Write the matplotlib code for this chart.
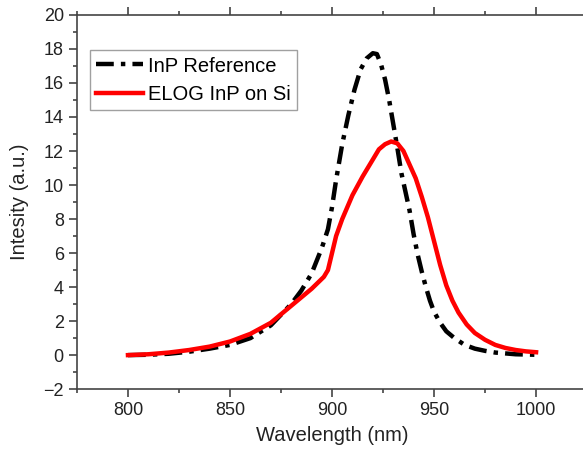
import matplotlib
matplotlib.use("Agg")
import matplotlib.pyplot as plt
from matplotlib.ticker import MultipleLocator

plt.rcParams["font.family"] = ["Liberation Sans", "DejaVu Sans"]

# InP reference (black dash-dot)
ref_wl = [800, 810, 820, 830, 840, 850, 860, 870, 880, 885, 890, 895, 898, 900, 902, 905,
          908, 911, 914, 917, 920, 922, 924, 926, 928, 930, 932, 934, 936, 938, 940, 942,
          944, 946, 948, 950, 953, 956, 960, 965, 970, 975, 980, 990, 1000]
ref_i = [0, 0.02, 0.08, 0.2, 0.38, 0.6, 1.0, 1.75, 3.0, 3.8, 4.8, 6.3, 7.4, 8.7, 10.3, 12.4,
         14.1, 15.6, 16.8, 17.45, 17.75, 17.7, 17.1, 16.2, 15.0, 13.6, 12.2, 10.7, 9.6, 8.5, 7.1, 5.9,
         4.9, 4.0, 3.2, 2.55, 1.9, 1.4, 1.0, 0.6, 0.38, 0.25, 0.15, 0.05, 0.02]

# ELOG InP on Si (red solid)
elog_wl = [800, 810, 820, 830, 840, 850, 860, 870, 880, 890, 896, 898, 900, 902, 905, 910,
           915, 920, 923, 926, 929, 932, 935, 938, 941, 944, 947, 950, 953, 956, 959, 962,
           966, 970, 975, 980, 985, 990, 995, 1000]
elog_i = [0, 0.05, 0.15, 0.3, 0.5, 0.8, 1.25, 1.9, 2.9, 3.9, 4.6, 5.0, 6.0, 7.0, 8.0, 9.4,
          10.5, 11.5, 12.1, 12.4, 12.56, 12.45, 12.0, 11.2, 10.4, 9.3, 8.1, 6.7, 5.3, 4.1, 3.2, 2.5,
          1.8, 1.3, 0.9, 0.6, 0.42, 0.3, 0.22, 0.17]

fig = plt.figure(figsize=(5.83, 4.53), dpi=100)
# axes run past the right edge of the figure, as in the cropped original
ax = fig.add_axes([0.132, 0.141, 0.875, 0.826])

ax.plot(ref_wl, ref_i, color="black", lw=3.2, dashes=[4, 1.6, 1, 1.6], label="InP Reference")
ax.plot(elog_wl, elog_i, color="#ff0000", lw=3.2, label="ELOG InP on Si")

ax.set_xlim(775, 1025)
ax.set_ylim(-2, 20)
ax.xaxis.set_major_locator(MultipleLocator(50))
ax.xaxis.set_minor_locator(MultipleLocator(25))
ax.yaxis.set_major_locator(MultipleLocator(2))
ax.yaxis.set_minor_locator(MultipleLocator(1))
ax.tick_params(which="both", direction="out", top=True, right=False, color="#444444", width=1.2,
               labelsize=13, labelcolor="#222222")
ax.tick_params(which="major", length=6)
ax.tick_params(which="minor", length=3)
for s in ax.spines.values():
    s.set_color("#444444")
    s.set_linewidth(1.2)
ax.spines["right"].set_visible(False)

ax.set_xlabel("Wavelength (nm)", fontsize=14.5, color="#222222", labelpad=5)
ax.set_ylabel("Intesity (a.u.)", fontsize=14.5, color="#222222", labelpad=10)

leg = ax.legend(loc="upper left", bbox_to_anchor=(0.025, 0.905), fontsize=14.5, frameon=True,
                fancybox=False, edgecolor="#888888", handlelength=2.35, handletextpad=0.25,
                borderpad=0.3, labelspacing=0.45, borderaxespad=0)
leg.get_frame().set_linewidth(1)

fig.savefig("out.png", dpi=100)
